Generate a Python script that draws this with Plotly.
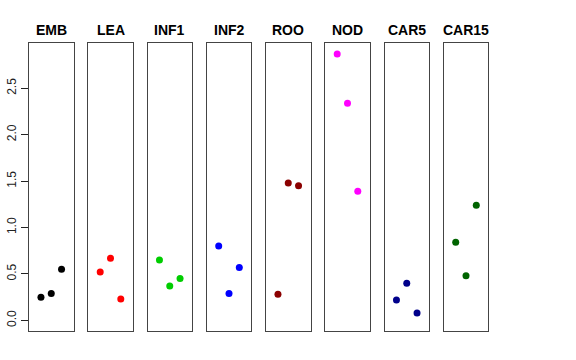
import plotly.graph_objects as go

categories = ["EMB", "LEA", "INF1", "INF2", "ROO", "NOD", "CAR5", "CAR15"]
colors = ["#000000", "#FF0000", "#00CD00", "#0000FF", "#8B0000", "#FF00FF", "#00008B", "#006400"]
positions = [1, 2, 3]
values = {
    "EMB": [0.25, 0.29, 0.55],
    "LEA": [0.52, 0.67, 0.23],
    "INF1": [0.65, 0.37, 0.45],
    "INF2": [0.80, 0.29, 0.57],
    "ROO": [0.28, 1.48, 1.45],
    "NOD": [2.87, 2.34, 1.39],
    "CAR5": [0.22, 0.40, 0.08],
    "CAR15": [0.84, 0.48, 1.24],
}
y_ticks = [0.0, 0.5, 1.0, 1.5, 2.0, 2.5]
y_tick_labels = ["0.0", "0.5", "1.0", "1.5", "2.0", "2.5"]

W, H = 576, 360
left0 = 29.0
panel_w = 44.5
step = 59.25
top_px, bottom_px = 43.3, 331.0
ydom = [1 - bottom_px / H, 1 - top_px / H]
yrange = [-0.115, 2.985]
xrange_ = [-0.16, 4.16]
frame_color = "#444444"

fig = go.Figure()
layout = dict(
    width=W, height=H,
    margin=dict(l=0, r=0, t=0, b=0, autoexpand=False),
    paper_bgcolor="white", plot_bgcolor="white",
    showlegend=False,
    font=dict(family="Liberation Sans, Arial, sans-serif", color="black"),
)
annotations = []
for i, cat in enumerate(categories):
    n = "" if i == 0 else str(i + 1)
    x0 = (left0 + i * step) / W
    x1 = (left0 + i * step + panel_w) / W
    fig.add_trace(go.Scatter(
        x=positions, y=values[cat], mode="markers",
        marker=dict(color=colors[i], size=7, line=dict(width=0)),
        xaxis="x" + n, yaxis="y" + n, cliponaxis=False,
    ))
    layout["xaxis" + n] = dict(
        domain=[x0, x1], range=xrange_, showgrid=False, zeroline=False,
        showticklabels=False, ticks="", showline=True, mirror=True,
        linecolor=frame_color, linewidth=1, anchor="y" + n, automargin=False,
    )
    yax = dict(
        domain=ydom, range=yrange, showgrid=False, zeroline=False,
        showline=True, mirror=True, linecolor=frame_color, linewidth=1,
        anchor="x" + n, automargin=False,
    )
    if i == 0:
        yax.update(
            tickmode="array", tickvals=y_ticks, ticktext=y_tick_labels,
            ticks="outside", ticklen=7, tickcolor="#222222", tickwidth=1,
            tickangle=-90, tickfont=dict(size=12, color="#222222"),
            showticklabels=True,
        )
    else:
        yax.update(showticklabels=False, ticks="")
    layout["yaxis" + n] = yax
    annotations.append(dict(
        x=(x0 + x1) / 2, y=1 - 30 / H, xref="paper", yref="paper",
        text="<b>" + cat + "</b>", showarrow=False,
        xanchor="center", yanchor="middle",
        font=dict(size=14, color="black"),
    ))
layout["annotations"] = annotations
fig.update_layout(**layout)
fig.write_html(
    "out.html",
    config={"displayModeBar": False},
    post_script="document.body.style.margin='0';document.body.style.padding='0';",
)
